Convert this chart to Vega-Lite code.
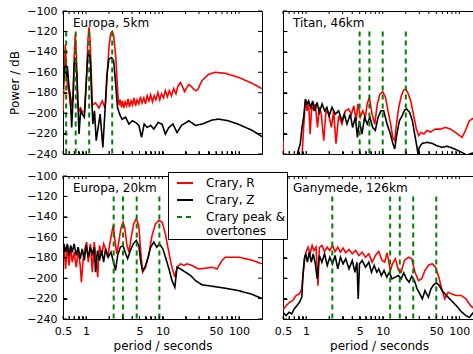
{
"$schema": "https://vega.github.io/schema/vega-lite/v6.json",
"background": "white",
"padding": {"left": 8, "top": 4, "right": 0, "bottom": 0},
"columns": 2,
"align": "each",
"spacing": {"row": 9, "column": 10},
"datasets": {
 "xt": [{"t":0.5},{"t":0.6},{"t":0.7},{"t":0.8},{"t":0.9},{"t":1},{"t":2},{"t":3},{"t":4},{"t":5},{"t":6},{"t":7},{"t":8},{"t":9},{"t":10},{"t":20},{"t":30},{"t":40},{"t":50},{"t":60},{"t":70},{"t":80},{"t":90},{"t":100}],
 "yt": [{"t":-240},{"t":-220},{"t":-200},{"t":-180},{"t":-160},{"t":-140},{"t":-120},{"t":-100}]
},
"config": {
 "view": {"stroke": "black", "strokeWidth": 1},
 "font": "DejaVu Sans",
 "axis": {"domainColor": "black", "tickColor": "black", "labelColor": "black", "titleColor": "black", "labelFont": "DejaVu Sans", "titleFont": "DejaVu Sans", "labelFontSize": 11, "titleFontSize": 12, "titleFontWeight": "normal", "grid": false, "domainWidth": 1, "tickWidth": 1},
 "legend": {"labelFont": "DejaVu Sans", "labelFontSize": 12, "labelColor": "black", "fillColor": "white", "strokeColor": "black", "padding": 2, "rowPadding": 2, "symbolSize": 256, "symbolStrokeWidth": 2, "symbolOffset": 6, "labelOffset": 12, "cornerRadius": 0},
 "title": {"font": "DejaVu Sans", "fontSize": 12, "fontWeight": "normal", "color": "black"}
},
"concat": [
{
 "title": {"text": "Europa, 5km", "anchor": "start", "frame": "group", "offset": -25, "dx": 10, "baseline": "top"},
 "width": 199, "height": 143,
 "resolve": {"axis": {"x": "independent", "y": "independent"}},
 "layer": [
  {
   "data": {"values": [
{"p":0.5,"s":"R","v":-198},{"p":0.52,"s":"R","v":-160},{"p":0.535,"s":"R","v":-133},{"p":0.55,"s":"R","v":-150},{"p":0.57,"s":"R","v":-172},{"p":0.6,"s":"R","v":-180},{"p":0.63,"s":"R","v":-194},{"p":0.66,"s":"R","v":-186},{"p":0.675,"s":"R","v":-188},{"p":0.7,"s":"R","v":-145},{"p":0.724,"s":"R","v":-123},{"p":0.75,"s":"R","v":-145},{"p":0.777,"s":"R","v":-190},{"p":0.81,"s":"R","v":-198},{"p":0.85,"s":"R","v":-195},{"p":0.9,"s":"R","v":-199},{"p":0.96,"s":"R","v":-198},{"p":1.02,"s":"R","v":-160},{"p":1.06,"s":"R","v":-128},{"p":1.093,"s":"R","v":-116},{"p":1.13,"s":"R","v":-128},{"p":1.17,"s":"R","v":-160},{"p":1.21,"s":"R","v":-192},{"p":1.335,"s":"R","v":-190},{"p":1.476,"s":"R","v":-195},{"p":1.63,"s":"R","v":-188},{"p":1.77,"s":"R","v":-195},{"p":1.8,"s":"R","v":-190},{"p":1.9,"s":"R","v":-160},{"p":2.0,"s":"R","v":-135},{"p":2.1,"s":"R","v":-122},{"p":2.2,"s":"R","v":-120},{"p":2.3,"s":"R","v":-124},{"p":2.45,"s":"R","v":-145},{"p":2.6,"s":"R","v":-180},{"p":2.7,"s":"R","v":-192},{"p":2.8,"s":"R","v":-187},{"p":2.9,"s":"R","v":-194},{"p":3.0,"s":"R","v":-188},{"p":3.12,"s":"R","v":-195},{"p":3.25,"s":"R","v":-189},{"p":3.4,"s":"R","v":-193},{"p":3.55,"s":"R","v":-186},{"p":3.7,"s":"R","v":-194},{"p":3.88,"s":"R","v":-188},{"p":4.05,"s":"R","v":-192},{"p":4.25,"s":"R","v":-185},{"p":4.45,"s":"R","v":-193},{"p":4.65,"s":"R","v":-187},{"p":4.9,"s":"R","v":-191},{"p":5.15,"s":"R","v":-184},{"p":5.4,"s":"R","v":-190},{"p":5.7,"s":"R","v":-185},{"p":6.0,"s":"R","v":-191},{"p":6.3,"s":"R","v":-183},{"p":6.65,"s":"R","v":-188},{"p":7.0,"s":"R","v":-182},{"p":7.4,"s":"R","v":-189},{"p":7.8,"s":"R","v":-183},{"p":8.2,"s":"R","v":-187},{"p":8.7,"s":"R","v":-180},{"p":9.2,"s":"R","v":-187},{"p":9.7,"s":"R","v":-181},{"p":10.3,"s":"R","v":-185},{"p":10.9,"s":"R","v":-178},{"p":11.6,"s":"R","v":-184},{"p":12.3,"s":"R","v":-178},{"p":13.1,"s":"R","v":-183},{"p":14,"s":"R","v":-176},{"p":15,"s":"R","v":-181},{"p":16,"s":"R","v":-173},{"p":17.2,"s":"R","v":-170},{"p":18.5,"s":"R","v":-175},{"p":19.4,"s":"R","v":-179},{"p":20.8,"s":"R","v":-175},{"p":22.1,"s":"R","v":-172},{"p":24,"s":"R","v":-174},{"p":25.9,"s":"R","v":-177},{"p":27.5,"s":"R","v":-178},{"p":29,"s":"R","v":-177},{"p":31,"s":"R","v":-172},{"p":33,"s":"R","v":-168},{"p":40,"s":"R","v":-162},{"p":49,"s":"R","v":-160},{"p":66.5,"s":"R","v":-161},{"p":99,"s":"R","v":-165},{"p":150,"s":"R","v":-171},{"p":200,"s":"R","v":-176},
{"p":0.5,"s":"Z","v":-176.5},{"p":0.52,"s":"Z","v":-155},{"p":0.54,"s":"Z","v":-153.7},{"p":0.556,"s":"Z","v":-165},{"p":0.57,"s":"Z","v":-154},{"p":0.6,"s":"Z","v":-175},{"p":0.62,"s":"Z","v":-181},{"p":0.649,"s":"Z","v":-214},{"p":0.675,"s":"Z","v":-188},{"p":0.7,"s":"Z","v":-152},{"p":0.73,"s":"Z","v":-145.6},{"p":0.76,"s":"Z","v":-162},{"p":0.81,"s":"Z","v":-220.5},{"p":0.85,"s":"Z","v":-197.7},{"p":0.894,"s":"Z","v":-201},{"p":0.95,"s":"Z","v":-204},{"p":1.0,"s":"Z","v":-175},{"p":1.05,"s":"Z","v":-145.6},{"p":1.093,"s":"Z","v":-139},{"p":1.14,"s":"Z","v":-149},{"p":1.18,"s":"Z","v":-181},{"p":1.23,"s":"Z","v":-210.7},{"p":1.29,"s":"Z","v":-197.7},{"p":1.36,"s":"Z","v":-227},{"p":1.44,"s":"Z","v":-214},{"p":1.53,"s":"Z","v":-201},{"p":1.66,"s":"Z","v":-233.5},{"p":1.77,"s":"Z","v":-197.7},{"p":1.88,"s":"Z","v":-162},{"p":1.99,"s":"Z","v":-147},{"p":2.16,"s":"Z","v":-145.6},{"p":2.3,"s":"Z","v":-149},{"p":2.42,"s":"Z","v":-168},{"p":2.58,"s":"Z","v":-194.4},{"p":2.75,"s":"Z","v":-201},{"p":2.96,"s":"Z","v":-206},{"p":3.29,"s":"Z","v":-204},{"p":3.64,"s":"Z","v":-210.7},{"p":4.02,"s":"Z","v":-207.5},{"p":4.44,"s":"Z","v":-209},{"p":4.91,"s":"Z","v":-212},{"p":5.32,"s":"Z","v":-223.7},{"p":5.76,"s":"Z","v":-210.7},{"p":6.3,"s":"Z","v":-214},{"p":7.0,"s":"Z","v":-212},{"p":7.7,"s":"Z","v":-215.6},{"p":8.8,"s":"Z","v":-209},{"p":9.9,"s":"Z","v":-211},{"p":10.9,"s":"Z","v":-220.5},{"p":12.1,"s":"Z","v":-214},{"p":13.7,"s":"Z","v":-210.7},{"p":15.5,"s":"Z","v":-219},{"p":17.7,"s":"Z","v":-212},{"p":22.1,"s":"Z","v":-207.5},{"p":27,"s":"Z","v":-212},{"p":33,"s":"Z","v":-210.7},{"p":44.5,"s":"Z","v":-206.8},{"p":54,"s":"Z","v":-205.8},{"p":73,"s":"Z","v":-207.5},{"p":99,"s":"Z","v":-211},{"p":150,"s":"Z","v":-217},{"p":200,"s":"Z","v":-223}
   ]},
   "mark": {"type": "line", "strokeWidth": 1.6, "clip": true},
   "encoding": {
    "x": {"field": "p", "type": "quantitative", "scale": {"type": "log", "domain": [0.5, 200], "nice": false},
     "axis": {"orient": "bottom", "values": [0.5,0.6,0.7,0.8,0.9,1,2,3,4,5,6,7,8,9,10,20,30,40,50,60,70,80,90,100], "labels": false, "title": null, "tickSize": -3}},
    "y": {"field": "v", "type": "quantitative", "scale": {"domain": [-240, -100], "nice": false, "zero": false},
     "axis": {"orient": "left", "values": [-240,-220,-200,-180,-160,-140,-120,-100], "tickSize": -4, "labelPadding": 10, "labelFlush": false, "labelOverlap": false, "title": "Power / dB", "titlePadding": 5}},
    "color": {"field": "s", "type": "nominal", "scale": {"domain": ["R","Z","P"], "range": ["#ff0000","#000000","#007f00"]},
     "legend": {"title": null, "orient": "none", "legendX": 105, "legendY": 161, "symbolType": "stroke", "labelExpr": "datum.value == 'R' ? 'Crary, R' : datum.value == 'Z' ? 'Crary, Z' : ['Crary peak &', 'overtones']"}},
    "strokeDash": {"field": "s", "type": "nominal", "scale": {"domain": ["R","Z","P"], "range": [[1,0],[1,0],[5,4]]},
     "legend": {"title": null, "orient": "none", "legendX": 105, "legendY": 161, "symbolType": "stroke", "labelExpr": "datum.value == 'R' ? 'Crary, R' : datum.value == 'Z' ? 'Crary, Z' : ['Crary peak &', 'overtones']"}}
   }
  },
  {
   "data": {"values": [{"p":0.55,"s":"P"},{"p":0.733,"s":"P"},{"p":1.1,"s":"P"},{"p":2.2,"s":"P"}]},
   "mark": {"type": "rule", "strokeWidth": 2},
   "encoding": {
    "x": {"field": "p", "type": "quantitative", "scale": {"type": "log", "domain": [0.5, 200], "nice": false}, "axis": null},
    "y": {"datum": -120, "type": "quantitative", "scale": {"domain": [-240, -100], "nice": false, "zero": false}, "axis": null},
    "y2": {"datum": -240},
    "color": {"field": "s", "type": "nominal"},
    "strokeDash": {"field": "s", "type": "nominal"}
   }
  },
  {"data": {"name": "xt"}, "mark": {"type": "rule", "color": "black", "strokeWidth": 1},
   "encoding": {"x": {"field": "t", "type": "quantitative", "scale": {"type": "log", "domain": [0.5, 200], "nice": false}, "axis": null}, "y": {"datum": -240, "type": "quantitative", "scale": {"domain": [-240, -100], "nice": false, "zero": false}, "axis": null}, "y2": {"datum": -237}}},
  {"data": {"name": "xt"}, "mark": {"type": "rule", "color": "black", "strokeWidth": 1},
   "encoding": {"x": {"field": "t", "type": "quantitative", "scale": {"type": "log", "domain": [0.5, 200], "nice": false}, "axis": null}, "y": {"datum": -100, "type": "quantitative", "scale": {"domain": [-240, -100], "nice": false, "zero": false}, "axis": null}, "y2": {"datum": -103}}},
  {"data": {"name": "yt"}, "mark": {"type": "rule", "color": "black", "strokeWidth": 1},
   "encoding": {"y": {"field": "t", "type": "quantitative", "scale": {"domain": [-240, -100], "nice": false, "zero": false}, "axis": null}, "x": {"datum": 0.5, "type": "quantitative", "scale": {"type": "log", "domain": [0.5, 200], "nice": false}, "axis": null}, "x2": {"datum": 0.5645}}},
  {"data": {"name": "yt"}, "mark": {"type": "rule", "color": "black", "strokeWidth": 1},
   "encoding": {"y": {"field": "t", "type": "quantitative", "scale": {"domain": [-240, -100], "nice": false, "zero": false}, "axis": null}, "x": {"datum": 200, "type": "quantitative", "scale": {"type": "log", "domain": [0.5, 200], "nice": false}, "axis": null}, "x2": {"datum": 177.2}}}
 ]
},
{
 "title": {"text": "Titan, 46km", "anchor": "start", "frame": "group", "offset": -19, "dx": 10, "baseline": "top"},
 "width": 192, "height": 143,
 "resolve": {"axis": {"x": "independent", "y": "independent"}},
 "layer": [
  {
   "data": {"values": [
{"p":0.5,"s":"R","v":-227},{"p":0.51,"s":"R","v":-245},{"p":0.88,"s":"R","v":-245},{"p":0.93,"s":"R","v":-214},{"p":0.98,"s":"R","v":-188},{"p":1.03,"s":"R","v":-197.7},{"p":1.08,"s":"R","v":-189.5},{"p":1.13,"s":"R","v":-220.5},{"p":1.19,"s":"R","v":-191},{"p":1.26,"s":"R","v":-198},{"p":1.32,"s":"R","v":-191},{"p":1.41,"s":"R","v":-214},{"p":1.49,"s":"R","v":-194},{"p":1.58,"s":"R","v":-201},{"p":1.7,"s":"R","v":-227},{"p":1.82,"s":"R","v":-197.7},{"p":1.97,"s":"R","v":-201},{"p":2.14,"s":"R","v":-214},{"p":2.29,"s":"R","v":-197.7},{"p":2.46,"s":"R","v":-230},{"p":2.66,"s":"R","v":-202.6},{"p":2.94,"s":"R","v":-210.7},{"p":3.25,"s":"R","v":-197.7},{"p":3.6,"s":"R","v":-196},{"p":3.9,"s":"R","v":-201},{"p":4.2,"s":"R","v":-192.8},{"p":4.5,"s":"R","v":-207.5},{"p":4.76,"s":"R","v":-191},{"p":5.1,"s":"R","v":-204},{"p":5.5,"s":"R","v":-197.7},{"p":5.94,"s":"R","v":-204},{"p":6.26,"s":"R","v":-191},{"p":6.7,"s":"R","v":-184.7},{"p":7.26,"s":"R","v":-201},{"p":7.88,"s":"R","v":-210.7},{"p":8.5,"s":"R","v":-191},{"p":9.2,"s":"R","v":-181.4},{"p":10,"s":"R","v":-179},{"p":10.9,"s":"R","v":-184.7},{"p":11.7,"s":"R","v":-197.7},{"p":12.7,"s":"R","v":-210.7},{"p":13.5,"s":"R","v":-223.7},{"p":14.35,"s":"R","v":-227},{"p":15.3,"s":"R","v":-207.5},{"p":16.2,"s":"R","v":-194.4},{"p":17.5,"s":"R","v":-183},{"p":18.7,"s":"R","v":-177.5},{"p":19.9,"s":"R","v":-176.5},{"p":21.2,"s":"R","v":-179.8},{"p":23.2,"s":"R","v":-188},{"p":25.4,"s":"R","v":-202.6},{"p":27.5,"s":"R","v":-215.6},{"p":29.5,"s":"R","v":-222},{"p":31.6,"s":"R","v":-218.9},{"p":34.3,"s":"R","v":-220.5},{"p":37.9,"s":"R","v":-217},{"p":41.8,"s":"R","v":-218.5},{"p":48.7,"s":"R","v":-215.6},{"p":56.5,"s":"R","v":-215.6},{"p":65.8,"s":"R","v":-214},{"p":76.5,"s":"R","v":-215.6},{"p":88.8,"s":"R","v":-218.9},{"p":108.6,"s":"R","v":-223.7},{"p":120,"s":"R","v":-217},{"p":135,"s":"R","v":-207.5},{"p":160,"s":"R","v":-204},
{"p":0.5,"s":"Z","v":-250},{"p":0.74,"s":"Z","v":-250},{"p":0.78,"s":"Z","v":-238},{"p":0.84,"s":"Z","v":-230},{"p":0.885,"s":"Z","v":-214},{"p":0.93,"s":"Z","v":-204},{"p":0.98,"s":"Z","v":-186.3},{"p":1.03,"s":"Z","v":-191},{"p":1.08,"s":"Z","v":-188},{"p":1.15,"s":"Z","v":-194.4},{"p":1.22,"s":"Z","v":-188},{"p":1.3,"s":"Z","v":-197.7},{"p":1.39,"s":"Z","v":-189.5},{"p":1.49,"s":"Z","v":-199.3},{"p":1.62,"s":"Z","v":-191},{"p":1.75,"s":"Z","v":-197.7},{"p":1.87,"s":"Z","v":-194.4},{"p":2.0,"s":"Z","v":-202.6},{"p":2.18,"s":"Z","v":-194.4},{"p":2.41,"s":"Z","v":-201},{"p":2.66,"s":"Z","v":-197.7},{"p":2.94,"s":"Z","v":-207.5},{"p":3.15,"s":"Z","v":-201},{"p":3.42,"s":"Z","v":-210.7},{"p":3.78,"s":"Z","v":-201},{"p":4.05,"s":"Z","v":-214},{"p":4.4,"s":"Z","v":-204},{"p":4.68,"s":"Z","v":-223.7},{"p":4.96,"s":"Z","v":-207.5},{"p":5.36,"s":"Z","v":-220.5},{"p":5.8,"s":"Z","v":-204},{"p":6.28,"s":"Z","v":-210.7},{"p":6.8,"s":"Z","v":-204},{"p":7.4,"s":"Z","v":-214},{"p":8.0,"s":"Z","v":-217},{"p":8.7,"s":"Z","v":-204},{"p":9.5,"s":"Z","v":-197.7},{"p":10.3,"s":"Z","v":-197.7},{"p":11.4,"s":"Z","v":-210.7},{"p":12.6,"s":"Z","v":-220.5},{"p":13.6,"s":"Z","v":-230},{"p":14.35,"s":"Z","v":-235},{"p":15.3,"s":"Z","v":-220.5},{"p":16.5,"s":"Z","v":-207.5},{"p":17.9,"s":"Z","v":-202.6},{"p":19.3,"s":"Z","v":-197},{"p":20.6,"s":"Z","v":-196},{"p":22.5,"s":"Z","v":-199.3},{"p":24.4,"s":"Z","v":-207.5},{"p":26.1,"s":"Z","v":-220.5},{"p":27.5,"s":"Z","v":-230},{"p":28.9,"s":"Z","v":-240},{"p":30,"s":"Z","v":-233.5},{"p":32.7,"s":"Z","v":-229.6},{"p":37.9,"s":"Z","v":-228.6},{"p":44,"s":"Z","v":-229.6},{"p":51,"s":"Z","v":-231.9},{"p":59.5,"s":"Z","v":-233.5},{"p":69,"s":"Z","v":-232.4},{"p":80,"s":"Z","v":-234},{"p":97,"s":"Z","v":-236.7},{"p":113,"s":"Z","v":-239.2},{"p":125,"s":"Z","v":-241},{"p":160,"s":"Z","v":-238.4}
   ]},
   "mark": {"type": "line", "strokeWidth": 1.6, "clip": true},
   "encoding": {
    "x": {"field": "p", "type": "quantitative", "scale": {"type": "log", "domain": [0.5, 160], "nice": false},
     "axis": {"orient": "bottom", "values": [0.5,0.6,0.7,0.8,0.9,1,2,3,4,5,6,7,8,9,10,20,30,40,50,60,70,80,90,100], "labels": false, "title": null, "tickSize": -3}},
    "y": {"field": "v", "type": "quantitative", "scale": {"domain": [-240, -100], "nice": false, "zero": false},
     "axis": {"orient": "left", "values": [-240,-220,-200,-180,-160,-140,-120,-100], "tickSize": -4, "labels": false, "title": null}},
    "color": {"field": "s", "type": "nominal"},
    "strokeDash": {"field": "s", "type": "nominal"}
   }
  },
  {
   "data": {"values": [{"p":5.0,"s":"P"},{"p":6.7,"s":"P"},{"p":10.0,"s":"P"},{"p":20.0,"s":"P"}]},
   "mark": {"type": "rule", "strokeWidth": 2},
   "encoding": {
    "x": {"field": "p", "type": "quantitative", "scale": {"type": "log", "domain": [0.5, 160], "nice": false}, "axis": null},
    "y": {"datum": -120, "type": "quantitative", "scale": {"domain": [-240, -100], "nice": false, "zero": false}, "axis": null},
    "y2": {"datum": -240},
    "color": {"field": "s", "type": "nominal"},
    "strokeDash": {"field": "s", "type": "nominal"}
   }
  },
  {"data": {"name": "xt"}, "mark": {"type": "rule", "color": "black", "strokeWidth": 1},
   "encoding": {"x": {"field": "t", "type": "quantitative", "scale": {"type": "log", "domain": [0.5, 160], "nice": false}, "axis": null}, "y": {"datum": -240, "type": "quantitative", "scale": {"domain": [-240, -100], "nice": false, "zero": false}, "axis": null}, "y2": {"datum": -237}}},
  {"data": {"name": "xt"}, "mark": {"type": "rule", "color": "black", "strokeWidth": 1},
   "encoding": {"x": {"field": "t", "type": "quantitative", "scale": {"type": "log", "domain": [0.5, 160], "nice": false}, "axis": null}, "y": {"datum": -100, "type": "quantitative", "scale": {"domain": [-240, -100], "nice": false, "zero": false}, "axis": null}, "y2": {"datum": -103}}},
  {"data": {"name": "yt"}, "mark": {"type": "rule", "color": "black", "strokeWidth": 1},
   "encoding": {"y": {"field": "t", "type": "quantitative", "scale": {"domain": [-240, -100], "nice": false, "zero": false}, "axis": null}, "x": {"datum": 0.5, "type": "quantitative", "scale": {"type": "log", "domain": [0.5, 160], "nice": false}, "axis": null}, "x2": {"datum": 0.5645}}}
 ]
},
{
 "title": {"text": "Europa, 20km", "anchor": "start", "frame": "group", "offset": -25, "dx": 10, "baseline": "top"},
 "width": 199, "height": 143,
 "resolve": {"axis": {"x": "independent", "y": "independent"}},
 "layer": [
  {
   "data": {"values": [
{"p":0.5,"s":"R","v":-184.4},{"p":0.52,"s":"R","v":-171.3},{"p":0.54,"s":"R","v":-191},{"p":0.57,"s":"R","v":-168},{"p":0.6,"s":"R","v":-187.6},{"p":0.63,"s":"R","v":-169.7},{"p":0.66,"s":"R","v":-184.4},{"p":0.7,"s":"R","v":-174.6},{"p":0.745,"s":"R","v":-189.3},{"p":0.79,"s":"R","v":-172.9},{"p":0.84,"s":"R","v":-187.6},{"p":0.87,"s":"R","v":-204},{"p":0.92,"s":"R","v":-181},{"p":0.97,"s":"R","v":-171.3},{"p":1.02,"s":"R","v":-164.7},{"p":1.07,"s":"R","v":-184.4},{"p":1.14,"s":"R","v":-166.4},{"p":1.21,"s":"R","v":-194.2},{"p":1.28,"s":"R","v":-164.7},{"p":1.36,"s":"R","v":-181},{"p":1.42,"s":"R","v":-199},{"p":1.5,"s":"R","v":-168},{"p":1.6,"s":"R","v":-177.8},{"p":1.7,"s":"R","v":-166.4},{"p":1.8,"s":"R","v":-171.3},{"p":1.92,"s":"R","v":-179.5},{"p":2.03,"s":"R","v":-168},{"p":2.16,"s":"R","v":-156.6},{"p":2.27,"s":"R","v":-148.4},{"p":2.38,"s":"R","v":-161.5},{"p":2.52,"s":"R","v":-176.2},{"p":2.68,"s":"R","v":-164.7},{"p":2.85,"s":"R","v":-151.7},{"p":3.05,"s":"R","v":-145.1},{"p":3.23,"s":"R","v":-151.7},{"p":3.43,"s":"R","v":-168},{"p":3.65,"s":"R","v":-174.6},{"p":3.87,"s":"R","v":-161.5},{"p":4.2,"s":"R","v":-146.8},{"p":4.54,"s":"R","v":-141.9},{"p":4.9,"s":"R","v":-148.4},{"p":5.2,"s":"R","v":-174.6},{"p":5.5,"s":"R","v":-194.2},{"p":6.0,"s":"R","v":-189.3},{"p":6.6,"s":"R","v":-177.8},{"p":7.3,"s":"R","v":-158.2},{"p":8.1,"s":"R","v":-146.8},{"p":9.0,"s":"R","v":-143.5},{"p":9.9,"s":"R","v":-145.1},{"p":10.9,"s":"R","v":-156.6},{"p":12.1,"s":"R","v":-174.6},{"p":13.1,"s":"R","v":-187.6},{"p":14.5,"s":"R","v":-199},{"p":15.5,"s":"R","v":-189.3},{"p":17.2,"s":"R","v":-186},{"p":19,"s":"R","v":-187.6},{"p":21,"s":"R","v":-186},{"p":24.3,"s":"R","v":-187.6},{"p":29.6,"s":"R","v":-191},{"p":36.3,"s":"R","v":-190.3},{"p":44.5,"s":"R","v":-189.3},{"p":51.6,"s":"R","v":-191},{"p":60,"s":"R","v":-182.7},{"p":66.5,"s":"R","v":-179.5},{"p":99,"s":"R","v":-179.5},{"p":150,"s":"R","v":-182.5},{"p":200,"s":"R","v":-186},
{"p":0.5,"s":"Z","v":-184.4},{"p":0.515,"s":"Z","v":-166.4},{"p":0.54,"s":"Z","v":-174.6},{"p":0.57,"s":"Z","v":-166.4},{"p":0.6,"s":"Z","v":-177.8},{"p":0.63,"s":"Z","v":-168},{"p":0.66,"s":"Z","v":-174.6},{"p":0.7,"s":"Z","v":-166.4},{"p":0.745,"s":"Z","v":-177.8},{"p":0.79,"s":"Z","v":-169.7},{"p":0.84,"s":"Z","v":-181},{"p":0.89,"s":"Z","v":-171.3},{"p":0.95,"s":"Z","v":-182.7},{"p":1.0,"s":"Z","v":-168},{"p":1.07,"s":"Z","v":-179.5},{"p":1.14,"s":"Z","v":-169.7},{"p":1.21,"s":"Z","v":-176.2},{"p":1.28,"s":"Z","v":-169.7},{"p":1.33,"s":"Z","v":-194.2},{"p":1.42,"s":"Z","v":-172.9},{"p":1.5,"s":"Z","v":-182.7},{"p":1.6,"s":"Z","v":-172.9},{"p":1.7,"s":"Z","v":-184.4},{"p":1.8,"s":"Z","v":-171.3},{"p":1.95,"s":"Z","v":-179.5},{"p":2.12,"s":"Z","v":-174.6},{"p":2.29,"s":"Z","v":-184.4},{"p":2.43,"s":"Z","v":-192.5},{"p":2.59,"s":"Z","v":-177.8},{"p":2.81,"s":"Z","v":-169.7},{"p":3.05,"s":"Z","v":-168},{"p":3.3,"s":"Z","v":-176.2},{"p":3.5,"s":"Z","v":-181},{"p":3.8,"s":"Z","v":-172.9},{"p":4.15,"s":"Z","v":-166.4},{"p":4.54,"s":"Z","v":-163.1},{"p":4.9,"s":"Z","v":-168},{"p":5.2,"s":"Z","v":-184.4},{"p":5.5,"s":"Z","v":-192.5},{"p":5.9,"s":"Z","v":-189.3},{"p":6.4,"s":"Z","v":-181},{"p":7.0,"s":"Z","v":-169.7},{"p":7.7,"s":"Z","v":-164.7},{"p":8.4,"s":"Z","v":-169.7},{"p":9.1,"s":"Z","v":-166.4},{"p":10.1,"s":"Z","v":-171.3},{"p":11.1,"s":"Z","v":-181},{"p":12.3,"s":"Z","v":-192.5},{"p":13.3,"s":"Z","v":-202.4},{"p":14.5,"s":"Z","v":-208.9},{"p":15.5,"s":"Z","v":-189.3},{"p":17.2,"s":"Z","v":-191},{"p":20,"s":"Z","v":-194.2},{"p":23.3,"s":"Z","v":-197.4},{"p":27,"s":"Z","v":-202.4},{"p":33,"s":"Z","v":-206.6},{"p":44.5,"s":"Z","v":-207.9},{"p":66.5,"s":"Z","v":-209.9},{"p":99,"s":"Z","v":-212.2},{"p":150,"s":"Z","v":-216},{"p":200,"s":"Z","v":-220}
   ]},
   "mark": {"type": "line", "strokeWidth": 1.6, "clip": true},
   "encoding": {
    "x": {"field": "p", "type": "quantitative", "scale": {"type": "log", "domain": [0.5, 200], "nice": false},
     "axis": {"orient": "bottom", "values": [0.5,0.6,0.7,0.8,0.9,1,2,3,4,5,6,7,8,9,10,20,30,40,50,60,70,80,90,100], "format": "~g", "labelExpr": "indexof([0.5,1,5,10,50,100], datum.value) >= 0 ? datum.label : ''", "labelFlush": false, "labelOverlap": false, "labelPadding": 9, "title": "period / seconds", "titlePadding": 4, "tickSize": -3}},
    "y": {"field": "v", "type": "quantitative", "scale": {"domain": [-240, -100], "nice": false, "zero": false},
     "axis": {"orient": "left", "values": [-240,-220,-200,-180,-160,-140,-120,-100], "tickSize": -4, "labelPadding": 10, "labelFlush": false, "labelOverlap": false, "title": null}},
    "color": {"field": "s", "type": "nominal"},
    "strokeDash": {"field": "s", "type": "nominal"}
   }
  },
  {
   "data": {"values": [{"p":2.3,"s":"P"},{"p":3.05,"s":"P"},{"p":4.6,"s":"P"},{"p":9.1,"s":"P"}]},
   "mark": {"type": "rule", "strokeWidth": 2},
   "encoding": {
    "x": {"field": "p", "type": "quantitative", "scale": {"type": "log", "domain": [0.5, 200], "nice": false}, "axis": null},
    "y": {"datum": -120, "type": "quantitative", "scale": {"domain": [-240, -100], "nice": false, "zero": false}, "axis": null},
    "y2": {"datum": -240},
    "color": {"field": "s", "type": "nominal"},
    "strokeDash": {"field": "s", "type": "nominal"}
   }
  },
  {"data": {"name": "xt"}, "mark": {"type": "rule", "color": "black", "strokeWidth": 1},
   "encoding": {"x": {"field": "t", "type": "quantitative", "scale": {"type": "log", "domain": [0.5, 200], "nice": false}, "axis": null}, "y": {"datum": -240, "type": "quantitative", "scale": {"domain": [-240, -100], "nice": false, "zero": false}, "axis": null}, "y2": {"datum": -237}}},
  {"data": {"name": "xt"}, "mark": {"type": "rule", "color": "black", "strokeWidth": 1},
   "encoding": {"x": {"field": "t", "type": "quantitative", "scale": {"type": "log", "domain": [0.5, 200], "nice": false}, "axis": null}, "y": {"datum": -100, "type": "quantitative", "scale": {"domain": [-240, -100], "nice": false, "zero": false}, "axis": null}, "y2": {"datum": -103}}},
  {"data": {"name": "yt"}, "mark": {"type": "rule", "color": "black", "strokeWidth": 1},
   "encoding": {"y": {"field": "t", "type": "quantitative", "scale": {"domain": [-240, -100], "nice": false, "zero": false}, "axis": null}, "x": {"datum": 0.5, "type": "quantitative", "scale": {"type": "log", "domain": [0.5, 200], "nice": false}, "axis": null}, "x2": {"datum": 0.5645}}},
  {"data": {"name": "yt"}, "mark": {"type": "rule", "color": "black", "strokeWidth": 1},
   "encoding": {"y": {"field": "t", "type": "quantitative", "scale": {"domain": [-240, -100], "nice": false, "zero": false}, "axis": null}, "x": {"datum": 200, "type": "quantitative", "scale": {"type": "log", "domain": [0.5, 200], "nice": false}, "axis": null}, "x2": {"datum": 177.2}}}
 ]
},
{
 "title": {"text": "Ganymede, 126km", "anchor": "start", "frame": "group", "offset": -19, "dx": 10, "baseline": "top"},
 "width": 192, "height": 143,
 "resolve": {"axis": {"x": "independent", "y": "independent"}},
 "layer": [
  {
   "data": {"values": [
{"p":0.5,"s":"R","v":-231},{"p":0.55,"s":"R","v":-226.9},{"p":0.61,"s":"R","v":-223.6},{"p":0.67,"s":"R","v":-222},{"p":0.74,"s":"R","v":-217},{"p":0.82,"s":"R","v":-215.4},{"p":0.88,"s":"R","v":-210.5},{"p":0.92,"s":"R","v":-194.2},{"p":0.96,"s":"R","v":-181},{"p":1.0,"s":"R","v":-174.6},{"p":1.06,"s":"R","v":-169.7},{"p":1.13,"s":"R","v":-176.2},{"p":1.2,"s":"R","v":-168},{"p":1.27,"s":"R","v":-172.9},{"p":1.35,"s":"R","v":-169.7},{"p":1.43,"s":"R","v":-207.3},{"p":1.49,"s":"R","v":-170},{"p":1.61,"s":"R","v":-168},{"p":1.74,"s":"R","v":-174},{"p":1.89,"s":"R","v":-169.7},{"p":2.04,"s":"R","v":-173},{"p":2.21,"s":"R","v":-168},{"p":2.39,"s":"R","v":-174},{"p":2.59,"s":"R","v":-169.7},{"p":2.81,"s":"R","v":-174.6},{"p":3.04,"s":"R","v":-170.6},{"p":3.29,"s":"R","v":-175.2},{"p":3.63,"s":"R","v":-172},{"p":4.01,"s":"R","v":-176.2},{"p":4.43,"s":"R","v":-172.9},{"p":4.89,"s":"R","v":-177.8},{"p":5.4,"s":"R","v":-174.6},{"p":5.97,"s":"R","v":-179.5},{"p":6.59,"s":"R","v":-176.2},{"p":7.28,"s":"R","v":-184.4},{"p":8.04,"s":"R","v":-177.8},{"p":8.88,"s":"R","v":-173.9},{"p":9.8,"s":"R","v":-182.7},{"p":10.6,"s":"R","v":-184.4},{"p":11.4,"s":"R","v":-175.2},{"p":12.6,"s":"R","v":-192.5},{"p":13.4,"s":"R","v":-186},{"p":14.6,"s":"R","v":-181},{"p":16.1,"s":"R","v":-192.5},{"p":17.4,"s":"R","v":-194.2},{"p":19.2,"s":"R","v":-182.7},{"p":21.7,"s":"R","v":-179.5},{"p":23.9,"s":"R","v":-181},{"p":26.4,"s":"R","v":-194.2},{"p":29.2,"s":"R","v":-202.4},{"p":32.2,"s":"R","v":-200.7},{"p":35.6,"s":"R","v":-192.5},{"p":40,"s":"R","v":-187},{"p":44.4,"s":"R","v":-186},{"p":49,"s":"R","v":-189.3},{"p":54,"s":"R","v":-199},{"p":59.7,"s":"R","v":-212.2},{"p":64.6,"s":"R","v":-220.3},{"p":71.3,"s":"R","v":-213.8},{"p":78.7,"s":"R","v":-215.4},{"p":91.2,"s":"R","v":-217},{"p":106,"s":"R","v":-217},{"p":122,"s":"R","v":-220.3},{"p":140,"s":"R","v":-226.9},{"p":156,"s":"R","v":-230},
{"p":0.5,"s":"Z","v":-233.4},{"p":0.55,"s":"Z","v":-236.7},{"p":0.6,"s":"Z","v":-233.4},{"p":0.65,"s":"Z","v":-235},{"p":0.7,"s":"Z","v":-230.1},{"p":0.76,"s":"Z","v":-226.9},{"p":0.82,"s":"Z","v":-223.6},{"p":0.88,"s":"Z","v":-218.7},{"p":0.91,"s":"Z","v":-197.4},{"p":0.95,"s":"Z","v":-181},{"p":0.99,"s":"Z","v":-176.2},{"p":1.04,"s":"Z","v":-184.4},{"p":1.1,"s":"Z","v":-174.6},{"p":1.17,"s":"Z","v":-184.4},{"p":1.24,"s":"Z","v":-176.2},{"p":1.32,"s":"Z","v":-186},{"p":1.4,"s":"Z","v":-200.7},{"p":1.49,"s":"Z","v":-177.8},{"p":1.61,"s":"Z","v":-184.4},{"p":1.74,"s":"Z","v":-176.2},{"p":1.89,"s":"Z","v":-187.6},{"p":2.04,"s":"Z","v":-179.5},{"p":2.21,"s":"Z","v":-186},{"p":2.39,"s":"Z","v":-177.8},{"p":2.59,"s":"Z","v":-190.9},{"p":2.81,"s":"Z","v":-179.5},{"p":3.04,"s":"Z","v":-186},{"p":3.29,"s":"Z","v":-181},{"p":3.63,"s":"Z","v":-190.9},{"p":4.01,"s":"Z","v":-182.7},{"p":4.34,"s":"Z","v":-194.2},{"p":4.61,"s":"Z","v":-184.4},{"p":4.79,"s":"Z","v":-220.3},{"p":4.98,"s":"Z","v":-186},{"p":5.4,"s":"Z","v":-182.7},{"p":5.97,"s":"Z","v":-189.3},{"p":6.59,"s":"Z","v":-184.4},{"p":7.14,"s":"Z","v":-194.2},{"p":7.74,"s":"Z","v":-187.6},{"p":8.37,"s":"Z","v":-194.2},{"p":8.88,"s":"Z","v":-190.9},{"p":9.6,"s":"Z","v":-197.4},{"p":10.4,"s":"Z","v":-192.5},{"p":11.3,"s":"Z","v":-199},{"p":12.2,"s":"Z","v":-194.2},{"p":13.2,"s":"Z","v":-200.7},{"p":14.6,"s":"Z","v":-199},{"p":16.1,"s":"Z","v":-197.4},{"p":17.4,"s":"Z","v":-200.7},{"p":18.8,"s":"Z","v":-194.8},{"p":20.4,"s":"Z","v":-200.7},{"p":22.1,"s":"Z","v":-204},{"p":23.9,"s":"Z","v":-198.1},{"p":25.9,"s":"Z","v":-202.4},{"p":28.1,"s":"Z","v":-210.5},{"p":30.5,"s":"Z","v":-215.4},{"p":32.9,"s":"Z","v":-220.3},{"p":35.6,"s":"Z","v":-212.2},{"p":39.4,"s":"Z","v":-218.7},{"p":42.6,"s":"Z","v":-210.5},{"p":46.1,"s":"Z","v":-206.6},{"p":50,"s":"Z","v":-204.6},{"p":54,"s":"Z","v":-206.6},{"p":59.7,"s":"Z","v":-212.2},{"p":67.9,"s":"Z","v":-217},{"p":78.7,"s":"Z","v":-222},{"p":91.2,"s":"Z","v":-226.9},{"p":106,"s":"Z","v":-232.8},{"p":122,"s":"Z","v":-236.7},{"p":135,"s":"Z","v":-238.3},{"p":156,"s":"Z","v":-232.8}
   ]},
   "mark": {"type": "line", "strokeWidth": 1.6, "clip": true},
   "encoding": {
    "x": {"field": "p", "type": "quantitative", "scale": {"type": "log", "domain": [0.5, 160], "nice": false},
     "axis": {"orient": "bottom", "values": [0.5,0.6,0.7,0.8,0.9,1,2,3,4,5,6,7,8,9,10,20,30,40,50,60,70,80,90,100], "format": "~g", "labelExpr": "indexof([0.5,1,5,10,50,100], datum.value) >= 0 ? datum.label : ''", "labelFlush": false, "labelOverlap": false, "labelPadding": 9, "title": "period / seconds", "titlePadding": 4, "tickSize": -3}},
    "y": {"field": "v", "type": "quantitative", "scale": {"domain": [-240, -100], "nice": false, "zero": false},
     "axis": {"orient": "left", "values": [-240,-220,-200,-180,-160,-140,-120,-100], "tickSize": -4, "labels": false, "title": null}},
    "color": {"field": "s", "type": "nominal"},
    "strokeDash": {"field": "s", "type": "nominal"}
   }
  },
  {
   "data": {"values": [{"p":2.2,"s":"P"},{"p":12.5,"s":"P"},{"p":16.7,"s":"P"},{"p":25,"s":"P"},{"p":50,"s":"P"}]},
   "mark": {"type": "rule", "strokeWidth": 2},
   "encoding": {
    "x": {"field": "p", "type": "quantitative", "scale": {"type": "log", "domain": [0.5, 160], "nice": false}, "axis": null},
    "y": {"datum": -120, "type": "quantitative", "scale": {"domain": [-240, -100], "nice": false, "zero": false}, "axis": null},
    "y2": {"datum": -240},
    "color": {"field": "s", "type": "nominal"},
    "strokeDash": {"field": "s", "type": "nominal"}
   }
  },
  {"data": {"name": "xt"}, "mark": {"type": "rule", "color": "black", "strokeWidth": 1},
   "encoding": {"x": {"field": "t", "type": "quantitative", "scale": {"type": "log", "domain": [0.5, 160], "nice": false}, "axis": null}, "y": {"datum": -240, "type": "quantitative", "scale": {"domain": [-240, -100], "nice": false, "zero": false}, "axis": null}, "y2": {"datum": -237}}},
  {"data": {"name": "xt"}, "mark": {"type": "rule", "color": "black", "strokeWidth": 1},
   "encoding": {"x": {"field": "t", "type": "quantitative", "scale": {"type": "log", "domain": [0.5, 160], "nice": false}, "axis": null}, "y": {"datum": -100, "type": "quantitative", "scale": {"domain": [-240, -100], "nice": false, "zero": false}, "axis": null}, "y2": {"datum": -103}}},
  {"data": {"name": "yt"}, "mark": {"type": "rule", "color": "black", "strokeWidth": 1},
   "encoding": {"y": {"field": "t", "type": "quantitative", "scale": {"domain": [-240, -100], "nice": false, "zero": false}, "axis": null}, "x": {"datum": 0.5, "type": "quantitative", "scale": {"type": "log", "domain": [0.5, 160], "nice": false}, "axis": null}, "x2": {"datum": 0.5645}}}
 ]
}
]
}
